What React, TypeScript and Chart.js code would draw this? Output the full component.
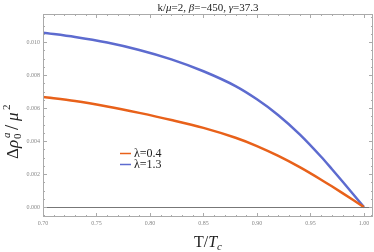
import React, { useEffect, useRef } from "react";
import { Chart, registerables } from "chart.js";

Chart.register(...registerables);

const temps = [0.70, 0.73, 0.76, 0.79, 0.82, 0.85, 0.88, 0.90, 0.92, 0.94, 0.96, 0.97, 0.98, 0.99, 1.00];
const lambda04 = [0.00667, 0.00643, 0.00610, 0.00571, 0.00528, 0.00480, 0.00420, 0.00370, 0.00310, 0.00242, 0.00166, 0.00126, 0.00085, 0.00043, 0];
const lambda13 = [0.01057, 0.01031, 0.00997, 0.00952, 0.00895, 0.00823, 0.00733, 0.00653, 0.00557, 0.00441, 0.00305, 0.00231, 0.00155, 0.00078, 0];
const seriesNames = ["λ=0.4", "λ=1.3"];
const xTicks = [0.70, 0.75, 0.80, 0.85, 0.90, 0.95, 1.00];
const yTicks = [0.000, 0.002, 0.004, 0.006, 0.008, 0.010];

const SERIF = "'Liberation Serif', 'DejaVu Serif', serif";
const ORANGE = "#E8611A";
const BLUE = "#5D6BCF";

function drawSegments(ctx: CanvasRenderingContext2D, segs: { t: string; f: string; dy?: number }[], x: number, y: number, align: "center" | "left") {
  let total = 0;
  for (const s of segs) { ctx.font = s.f; total += ctx.measureText(s.t).width; }
  let cx = align === "center" ? x - total / 2 : x;
  ctx.textAlign = "left";
  ctx.textBaseline = "alphabetic";
  for (const s of segs) {
    ctx.font = s.f;
    ctx.fillText(s.t, cx, y + (s.dy || 0));
    cx += ctx.measureText(s.t).width;
  }
}

const decorPlugin = {
  id: "decor",
  afterDraw(chart: any) {
    const ctx: CanvasRenderingContext2D = chart.ctx;
    const { left, right, top, bottom } = chart.chartArea;
    const xs = chart.scales.x;
    const ys = chart.scales.y;
    ctx.save();
    // zero line
    ctx.strokeStyle = "#777";
    ctx.lineWidth = 1;
    const y0 = Math.round(ys.getPixelForValue(0)) + 0.5;
    ctx.beginPath();
    ctx.moveTo(left, y0);
    ctx.lineTo(right, y0);
    ctx.stroke();
    // frame
    ctx.strokeStyle = "#aaa";
    ctx.strokeRect(left + 0.5, top + 0.5, right - left - 1, bottom - top - 1);
    // ticks
    ctx.beginPath();
    for (let i = 0; i <= 31; i++) {
      const v = 0.70 + i * 0.01;
      if (v > xs.max) break;
      const major = i % 5 === 0;
      const len = major ? 4 : 2;
      const px = Math.round(xs.getPixelForValue(v)) + 0.5;
      ctx.moveTo(px, bottom); ctx.lineTo(px, bottom - len);
      ctx.moveTo(px, top); ctx.lineTo(px, top + len);
    }
    for (let i = -1; i <= 23; i++) {
      const v = i * 0.0005;
      if (v < ys.min || v > ys.max) continue;
      const major = i % 4 === 0;
      const len = major ? 4 : 2;
      const py = Math.round(ys.getPixelForValue(v)) + 0.5;
      ctx.moveTo(left, py); ctx.lineTo(left + len, py);
      ctx.moveTo(right, py); ctx.lineTo(right - len, py);
    }
    ctx.stroke();

    ctx.fillStyle = "#222";
    // title
    const tf = `11px ${SERIF}`;
    const ti = `italic 11px ${SERIF}`;
    drawSegments(ctx, [
      { t: "k/", f: tf }, { t: "μ", f: ti }, { t: "=2, ", f: tf },
      { t: "β", f: ti }, { t: "=−450, ", f: tf }, { t: "γ", f: ti }, { t: "=37.3", f: tf },
    ], (left + right) / 2, 11, "center");

    // x title
    const xf = `16px ${SERIF}`;
    const xi = `italic 16px ${SERIF}`;
    const xsub = `italic 11px ${SERIF}`;
    drawSegments(ctx, [
      { t: "T/", f: xf }, { t: "T", f: xi }, { t: "c", f: xsub, dy: 3 },
    ], (left + right) / 2, 247, "center");

    // y title rotated
    ctx.save();
    ctx.translate(18, 159);
    ctx.rotate(-Math.PI / 2);
    ctx.textAlign = "left";
    ctx.textBaseline = "alphabetic";
    const yf = `17px ${SERIF}`;
    const yi = `italic 17px ${SERIF}`;
    const ysm = `italic 11px ${SERIF}`;
    const ysmn = `11px ${SERIF}`;
    const yBig = `19px ${SERIF}`;
    ctx.font = yf; ctx.fillText("Δ", 0, 0);
    ctx.font = yi; ctx.fillText("ρ", 11, 0);
    ctx.font = ysm; ctx.fillText("a", 21, -8);
    ctx.font = ysmn; ctx.fillText("0", 20, 3);
    ctx.font = yBig; ctx.fillText("/", 29, 0);
    ctx.font = yi; ctx.fillText("μ", 38, 0);
    ctx.font = ysmn; ctx.fillText("2", 49, -8);
    ctx.restore();

    // legend
    const colors = [ORANGE, BLUE];
    const lf = `12px ${SERIF}`;
    for (let i = 0; i < seriesNames.length; i++) {
      const ly = 153.5 + i * 11;
      ctx.strokeStyle = colors[i];
      ctx.lineWidth = 1.5;
      ctx.beginPath();
      ctx.moveTo(120, ly);
      ctx.lineTo(131, ly);
      ctx.stroke();
      ctx.fillStyle = "#222";
      ctx.font = lf;
      ctx.textAlign = "left";
      ctx.textBaseline = "middle";
      ctx.fillText(seriesNames[i], 134, ly + 0.5);
    }
    ctx.restore();
  },
};

export default function App() {
  const ref = useRef<HTMLCanvasElement | null>(null);
  useEffect(() => {
    document.body.style.margin = "0";
    const canvas = ref.current!;
    const chart = new Chart(canvas, {
      type: "line",
      data: {
        datasets: [
          {
            label: seriesNames[0],
            data: temps.map((t, i) => ({ x: t, y: lambda04[i] })),
            borderColor: ORANGE,
            borderWidth: 2.5,
            pointRadius: 0,
            cubicInterpolationMode: "monotone",
          },
          {
            label: seriesNames[1],
            data: temps.map((t, i) => ({ x: t, y: lambda13[i] })),
            borderColor: BLUE,
            borderWidth: 2.5,
            pointRadius: 0,
            cubicInterpolationMode: "monotone",
          },
        ],
      },
      options: {
        animation: false,
        responsive: false,
        maintainAspectRatio: false,
        layout: { padding: { top: 14, right: 1, left: 0, bottom: 0 } },
        plugins: { legend: { display: false }, tooltip: { enabled: false }, title: { display: false } },
        scales: {
          x: {
            type: "linear",
            min: 0.70,
            max: 1.0085,
            afterBuildTicks: (s: any) => { s.ticks = xTicks.map((v) => ({ value: v })); },
            afterFit: (s: any) => { s.height = 35; },
            grid: { display: false, drawTicks: false },
            border: { display: false },
            ticks: {
              padding: 3,
              maxRotation: 0,
              autoSkip: false,
              color: "#888",
              font: { family: SERIF, size: 6 },
              callback: (v: any) => Number(v).toFixed(2),
            },
          },
          y: {
            type: "linear",
            min: -0.0006,
            max: 0.0117,
            afterBuildTicks: (s: any) => { s.ticks = yTicks.map((v) => ({ value: v })); },
            afterFit: (s: any) => { s.width = 43; },
            grid: { display: false, drawTicks: false },
            border: { display: false },
            ticks: {
              padding: 3,
              autoSkip: false,
              color: "#888",
              font: { family: SERIF, size: 6 },
              callback: (v: any) => Number(v).toFixed(3),
            },
          },
        },
      },
      plugins: [decorPlugin],
    });
    return () => chart.destroy();
  }, []);
  return <canvas ref={ref} width={374} height={252} style={{ display: "block" }} />;
}
